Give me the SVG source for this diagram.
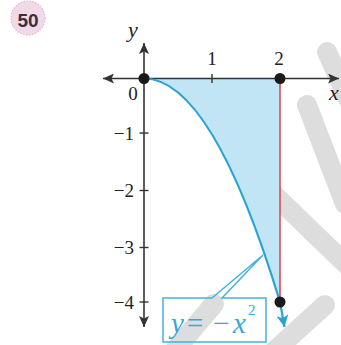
<svg xmlns="http://www.w3.org/2000/svg" width="341" height="345" viewBox="0 0 341 345">
<style>
.wm{stroke:#dddddd;stroke-width:20;stroke-linecap:round;fill:none}
.axis{stroke:#333;stroke-width:1.6;fill:none}
.tick{stroke:#333;stroke-width:1.4}
.num{font-family:"Liberation Serif","Times New Roman",serif;font-size:19px;fill:#222}
.var{font-family:"Liberation Serif","Times New Roman",serif;font-style:italic;font-size:22px;fill:#222}
.dot{fill:#1a1a1a}
.eq{font-family:"Liberation Serif","Times New Roman",serif;fill:#3aa6d8;font-size:29px}
</style>
<defs>
<marker id="ah" markerUnits="userSpaceOnUse" markerWidth="12" markerHeight="10" refX="11" refY="5" orient="auto"><path d="M0,0 L11,5 L0,10 L2.5,5 z" fill="#333"/></marker>
<marker id="bh" markerUnits="userSpaceOnUse" markerWidth="13" markerHeight="12" refX="12" refY="6" orient="auto"><path d="M0,0 L12,6 L0,12 L3,6 z" fill="#29a3d6"/></marker>
</defs>
<g id="watermark" class="wm">
<line x1="327" y1="52" x2="370" y2="147"/>
<line x1="307" y1="105" x2="345" y2="204"/>
<line x1="262" y1="183" x2="352" y2="270"/>
<line x1="325" y1="305" x2="270" y2="355"/>
<line x1="214" y1="304" x2="175" y2="350"/>
</g>
<g id="badge">
<circle cx="28" cy="18" r="17" fill="#f1d9e8" stroke="#e2b8d0" stroke-width="1.2" stroke-dasharray="1.5 1.5"/>
<text x="28" y="27" text-anchor="middle" font-family="Liberation Sans, Arial, sans-serif" font-weight="bold" font-size="19" fill="#3b2f3d">50</text>
</g>
<g id="region">
<path d="M144,78.5 Q212,78.5 280,302 L280,78.5 Z" fill="#c2e5f6"/>
</g>
<g id="axes">
<path class="axis" d="M144,78.5 H339" marker-end="url(#ah)"/>
<path class="axis" d="M144,78.5 H103" marker-end="url(#ah)"/>
<path class="axis" d="M144,78.5 V43" marker-end="url(#ah)"/>
<path class="axis" d="M144,78.5 V327" marker-end="url(#ah)"/>
<line class="tick" x1="212" y1="74" x2="212" y2="83"/>
<line class="tick" x1="139.5" y1="133" x2="148.5" y2="133"/>
<line class="tick" x1="139.5" y1="190.5" x2="148.5" y2="190.5"/>
<line class="tick" x1="139.5" y1="247.5" x2="148.5" y2="247.5"/>
<line class="tick" x1="139.5" y1="302" x2="148.5" y2="302"/>
<text class="var" x="128" y="37">y</text>
<text class="var" x="329" y="100">x</text>
<text class="num" x="133" y="100" text-anchor="middle">0</text>
<text class="num" x="212" y="65" text-anchor="middle">1</text>
<text class="num" x="279" y="65" text-anchor="middle">2</text>
<text class="num" x="134" y="139.5" text-anchor="end">−1</text>
<text class="num" x="134" y="197" text-anchor="end">−2</text>
<text class="num" x="134" y="254" text-anchor="end">−3</text>
<text class="num" x="134" y="308.5" text-anchor="end">−4</text>
</g>
<g id="connectors">
<line x1="280" y1="78.5" x2="280" y2="302" stroke="#dc4a55" stroke-width="1.6"/>
<path d="M144,78.5 Q212,78.5 280,302" fill="none" stroke="#29a3d6" stroke-width="2.2"/>
<path d="M280,302 L284.5,327" fill="none" stroke="#29a3d6" stroke-width="2.2" marker-end="url(#bh)"/>
</g>
<g id="points">
<circle class="dot" cx="144" cy="78.5" r="5.5"/>
<circle class="dot" cx="280" cy="78.5" r="5.5"/>
<circle class="dot" cx="280" cy="302" r="5.5"/>
</g>
<g id="label">
<path d="M163,298 H212 L263,255 L222,298 H266 V342 H163 Z" fill="none" stroke="#45b3e0" stroke-width="1.5"/>
<text class="eq" y="333"><tspan x="171" font-style="italic">y</tspan><tspan x="187">=</tspan><tspan x="213">−</tspan><tspan x="233" font-style="italic">x</tspan><tspan x="248" y="315" font-size="15">2</tspan></text>
</g>
</svg>
